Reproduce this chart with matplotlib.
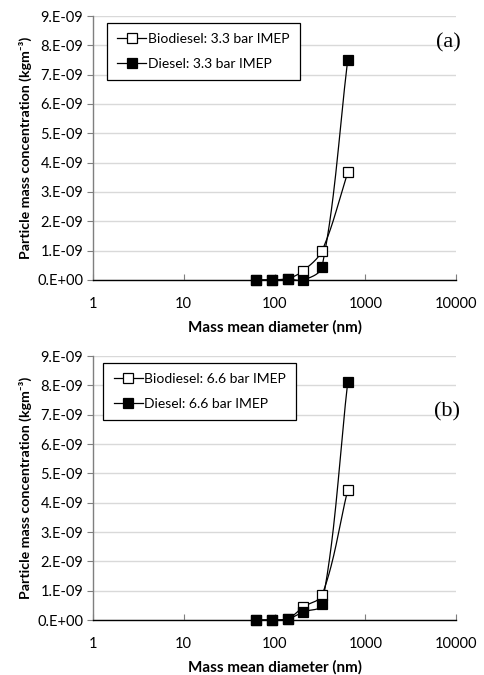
import numpy as np
import matplotlib
matplotlib.use("Agg")
import matplotlib.pyplot as plt
from matplotlib.lines import Line2D

# ---- data ----
diam = [62.5, 95, 142, 208, 334, 642]
bio_a = [0.0, 0.0, 0.05e-9, 0.32e-9, 1.0e-9, 3.67e-9]
die_a = [0.0, 0.0, 0.03e-9, 0.0, 0.45e-9, 7.51e-9]
bio_b = [0.0, 0.0, 0.05e-9, 0.45e-9, 0.85e-9, 4.44e-9]
die_b = [0.0, 0.0, 0.04e-9, 0.28e-9, 0.53e-9, 8.12e-9]
labels_a = ["Biodiesel: 3.3 bar IMEP", "Diesel: 3.3 bar IMEP"]
labels_b = ["Biodiesel: 6.6 bar IMEP", "Diesel: 6.6 bar IMEP"]
yticks = [i * 1e-9 for i in range(10)]
ytick_labels = ["0.E+00", "1.E-09", "2.E-09", "3.E-09", "4.E-09",
                "5.E-09", "6.E-09", "7.E-09", "8.E-09", "9.E-09"]
xticks = [1, 10, 100, 1000, 10000]
xtick_labels = ["1", "10", "100", "1000", "10000"]

FONT = ["Lato", "DejaVu Sans"]
plt.rcParams["font.family"] = FONT

fig = plt.figure(figsize=(4.84, 6.75), dpi=100)
W, H = 484, 675
L, R = 93, 456


def smooth(ax, xs, ys, n=30):
    # Excel-like bezier smoothing done in display space, tangent lengths
    # scaled by the segment length to limit overshoot
    pts = ax.transData.transform(np.column_stack([xs, ys]))
    out = [pts[0]]
    m = len(pts)
    for i in range(m - 1):
        p0 = pts[i - 1] if i > 0 else pts[i]
        p1 = pts[i]
        p2 = pts[i + 1]
        p3 = pts[i + 2] if i + 2 < m else pts[i + 1]
        seglen = np.hypot(*(p2 - p1))
        t1 = p2 - p0
        t2 = p3 - p1
        n1 = np.hypot(*t1) or 1.0
        n2 = np.hypot(*t2) or 1.0
        c1 = p1 + t1 / n1 * seglen / 3.0
        c2 = p2 - t2 / n2 * seglen / 3.0
        t = np.linspace(0, 1, n)[1:, None]
        seg = ((1 - t) ** 3) * p1 + 3 * ((1 - t) ** 2) * t * c1 + 3 * (1 - t) * t ** 2 * c2 + t ** 3 * p2
        out.extend(seg)
    out = np.array(out)
    d = ax.transData.inverted().transform(out)
    return d[:, 0], d[:, 1]


def panel(top, bottom, bio, die, labels, tag, tag_y, leg_x):
    ax = fig.add_axes([L / W, 1 - bottom / H, (R - L) / W, (bottom - top) / H])
    ax.set_xscale("log")
    ax.set_xlim(1, 10000)
    ax.set_ylim(0, 9e-9)
    ax.set_yticks(yticks)
    ax.set_yticklabels(ytick_labels, fontsize=10.5)
    ax.set_xticks(xticks)
    ax.set_xticklabels(xtick_labels, fontsize=10.5)
    ax.xaxis.set_minor_locator(matplotlib.ticker.NullLocator())
    ax.grid(axis="y", color="#d9d9d9", lw=1.0)
    ax.set_axisbelow(True)
    for s in ["top", "right"]:
        ax.spines[s].set_visible(False)
    ax.spines["left"].set_color("#7f7f7f")
    ax.spines["bottom"].set_color("black")
    ax.spines["left"].set_linewidth(1.0)
    ax.spines["bottom"].set_linewidth(1.0)
    ax.tick_params(axis="y", direction="out", length=4, color="#7f7f7f", pad=3)
    ax.tick_params(axis="x", direction="in", length=4, color="#7f7f7f", pad=12)
    fig.canvas.draw()
    for ys, fc in [(bio, "white"), (die, "black")]:
        sx, sy = smooth(ax, diam, ys)
        ax.plot(sx, sy, color="black", lw=0.9, zorder=3)
        ax.plot(diam, ys, ls="none", marker="s", ms=7.5, mfc=fc, mec="black",
                mew=0.9, zorder=4, clip_on=False)
    handles = [Line2D([], [], color="black", lw=0.9, marker="s", ms=7.5, mfc="white", mec="black", mew=0.9),
               Line2D([], [], color="black", lw=0.9, marker="s", ms=7.5, mfc="black", mec="black", mew=0.9)]
    leg = ax.legend(handles, labels, loc="upper left", bbox_to_anchor=(leg_x, 0.975),
                    frameon=True, fancybox=False, edgecolor="black", framealpha=1,
                    fontsize=10, handlelength=2.1, handletextpad=0.1,
                    borderpad=0.75, labelspacing=0.9, borderaxespad=0)
    leg.get_frame().set_linewidth(0.9)
    ax.text(1.012, tag_y, tag, transform=ax.transAxes, ha="right", va="center",
            fontsize=16, family="Liberation Serif")
    ax.set_xlabel("Mass mean diameter (nm)", fontsize=11, fontweight="bold", labelpad=7)
    ax.set_ylabel("Particle mass concentration (kgm\u207b\u00b3)", fontsize=10.2,
                  fontweight="bold", labelpad=4)
    return ax


panel(16, 280, bio_a, die_a, labels_a, "(a)", 0.898, 0.038)
panel(356, 620, bio_b, die_b, labels_b, "(b)", 0.79, 0.028)

fig.savefig("out.png", dpi=100)
